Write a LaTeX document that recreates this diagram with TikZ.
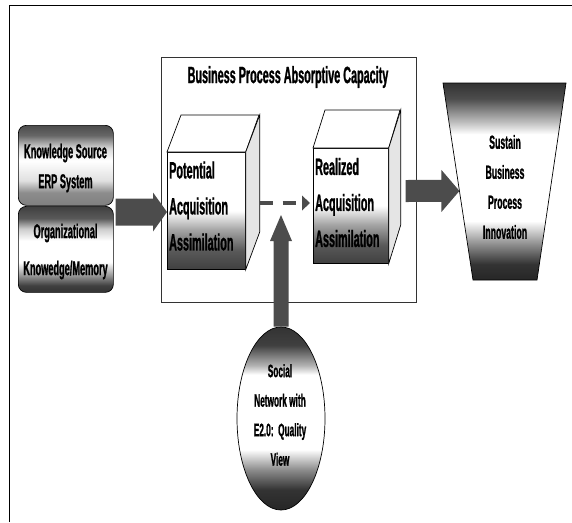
\documentclass[tikz,border=0pt]{standalone}
\usepackage{fontspec}
\setmainfont{Liberation Sans}[FakeStretch=0.46,BoldFeatures={FakeBold=1}]
\usetikzlibrary{calc,shapes.geometric}
\pgfdeclareverticalshading{ksband}{100bp}{color(0bp)=(black!50); color(25bp)=(black!50); color(33bp)=(black!45); color(40.5bp)=(black!12); color(53bp)=(white); color(60.5bp)=(black!15); color(68.75bp)=(black!60); color(75bp)=(black!70); color(100bp)=(black!70)}
\pgfdeclareverticalshading{koband}{100bp}{color(0bp)=(black!80); color(25bp)=(black!80); color(29bp)=(black!75); color(35bp)=(black!40); color(42.5bp)=(white); color(55bp)=(white); color(62bp)=(black!20); color(68bp)=(black!65); color(75bp)=(black!75); color(100bp)=(black!75)}
\pgfdeclareverticalshading{trapband}{100bp}{color(0bp)=(black!85); color(25bp)=(black!85); color(29bp)=(black!80); color(34bp)=(black!45); color(40bp)=(white); color(62bp)=(white); color(65bp)=(black!25); color(71bp)=(black!70); color(75bp)=(black!80); color(100bp)=(black!80)}
\pgfdeclareverticalshading{ellband}{100bp}{color(0bp)=(black!85); color(25bp)=(black!85); color(30.5bp)=(black!80); color(36bp)=(black!45); color(41.5bp)=(white); color(62bp)=(white); color(64.5bp)=(black!30); color(70bp)=(black!75); color(75bp)=(black!80); color(100bp)=(black!80)}
\pgfdeclareverticalshading{cubeband}{100bp}{color(0bp)=(black!75); color(25bp)=(black!75); color(33bp)=(black!65); color(42bp)=(black!35); color(50bp)=(white); color(75bp)=(white); color(100bp)=(white)}
\newcommand\hblockarrow[5]{%
  \fill[blockfill] ($(#1)+(0,-#3)$) -- ($(#2)+(-#5,-#3)$) -- ($(#2)+(-#5,-#4)$) -- (#2)
    -- ($(#2)+(-#5,#4)$) -- ($(#2)+(-#5,#3)$) -- ($(#1)+(0,#3)$) -- cycle;}
\newcommand\vblockarrow[5]{%
  \fill[blockfill] ($(#1)+(-#3,0)$) -- ($(#2)+(-#3,#5)$) -- ($(#2)+(-#4,#5)$) -- (#2)
    -- ($(#2)+(#4,#5)$) -- ($(#2)+(#3,#5)$) -- ($(#1)+(#3,0)$) -- cycle;}
\begin{document}
\begin{tikzpicture}[x=1pt,y=-1pt,
  outline/.style={draw=black,line width=0.7pt},
  blockfill/.style={fill=black!70},
  stackbox/.style={outline,rounded corners=8pt,minimum width=95pt,inner sep=0pt,anchor=north west},
  cubefront/.style={outline,shade,shading=cubeband,inner sep=0pt,anchor=north west},
  sidefill/.style={outline,fill=black!10},
  topfill/.style={outline,fill=white},
  boxtext/.style={font=\bfseries\fontsize{20}{30}\selectfont,align=center,inner sep=0pt},
  cubetext/.style={font=\bfseries\fontsize{23.5}{36}\selectfont,align=left,inner sep=0pt,anchor=west},
  smalltext/.style={font=\bfseries\fontsize{18}{29.5}\selectfont,align=center,inner sep=0pt},
  dashline/.style={draw=black!70,line width=4.5pt,dash pattern=on 13pt off 10pt}]
\useasboundingbox (0,0) rectangle (572,522);
% outer frame
\coordinate (fbl) at (9.5,522);
\coordinate (ftl) at (9.5,5.5);
\coordinate (ftr) at (572,5.5);
\draw[line width=0.8pt] (fbl) -- (ftl) -- (ftr);
% big box
\node[draw=black!80,line width=0.9pt,minimum width=255pt,minimum height=245pt,inner sep=0pt,anchor=north west] (bpac) at (161,57) {};
\node[font=\bfseries\fontsize{23.5}{26}\selectfont,inner sep=0pt] (title) at (288,77) {Business Process Absorptive Capacity};
% left stack
\node[stackbox,minimum height=80pt,shade,shading=ksband] (ks) at (18,125) {};
\node[boxtext] (kstxt) at (65.5,168) {Knowledge Source\\ERP System};
\node[stackbox,minimum height=86pt,shade,shading=koband] (ko) at (18,206) {};
\node[boxtext,font=\bfseries\fontsize{20}{37}\selectfont] (kotxt) at (65.5,251.5) {Organizational\\Knowedge/Memory};
% potential cube
\node[cubefront,minimum width=78pt,minimum height=117pt] (pot) at (167,152) {};
\draw[topfill] (pot.north west) -- ++(14,-37) -- ++(78,0) -- (pot.north east) -- cycle;
\draw[sidefill] (pot.north east) -- ++(14,-37) -- ++(0,117) -- (pot.south east) -- cycle;
\node[cubetext] (pottxt) at (169,206) {Potential\\Acquisition\\Assimilation};
% realized cube
\node[cubefront,minimum width=75pt,minimum height=115pt] (real) at (313,148) {};
\draw[topfill] (real.north west) -- ++(12,-38) -- ++(75,0) -- (real.north east) -- cycle;
\draw[sidefill] (real.north east) -- ++(12,-38) -- ++(0,115) -- (real.south east) -- cycle;
\node[cubetext] (realtxt) at (315,202.5) {Realized\\Acquisition\\Assimilation};
% trapezoid
\coordinate (tA) at (443,83);
\coordinate (tB) at (566,83);
\coordinate (tC) at (537,280);
\coordinate (tD) at (473,280);
\path[outline,shade,shading=trapband] (tA) -- (tB) -- (tC) -- (tD) -- cycle;
\node[smalltext,font=\bfseries\fontsize{19}{30}\selectfont] (trtxt) at (505,187) {Sustain\\Business\\Process\\Innovation};
% social network ellipse
\node[ellipse,outline,shade,shading=ellband,minimum width=88pt,minimum height=183pt,inner sep=0pt] (soc) at (281,418.5) {};
\node[smalltext] (soctxt) at (280,415) {Social\\Network with\\E2.0:~~Quality\\View};
% arrows
\coordinate (lrow) at (0,212);
\coordinate (lstart) at ($(ko.east |- lrow)+(2,0)$);
\coordinate (ltip) at (pot.west |- lrow);
\hblockarrow{lstart}{ltip}{13.5}{19.5}{14}
\coordinate (rrow) at (0,191);
\coordinate (rstart) at ($(real.east |- rrow)+(17,0)$);
\coordinate (rtip) at ($(tA)!0.548!(tD)$);
\hblockarrow{rstart}{rtip}{11}{21}{18}
\coordinate (drow) at (0,203);
\coordinate (dstart) at ($(pot.east |- drow)+(14,0)$);
\coordinate (dtip) at (real.west |- drow);
\draw[dashline] (dstart) -- ($(dtip)+(-16,0)$);
\fill[black!70] ($(dtip)+(-11,-7.5)$) -- ($(dtip)+(-3,0)$) -- ($(dtip)+(-11,7.5)$) -- cycle;
\coordinate (urow) at (0,215);
\coordinate (utip) at (soc.north |- urow);
\vblockarrow{soc.north}{utip}{7.5}{11}{26}
\end{tikzpicture}
\end{document}
